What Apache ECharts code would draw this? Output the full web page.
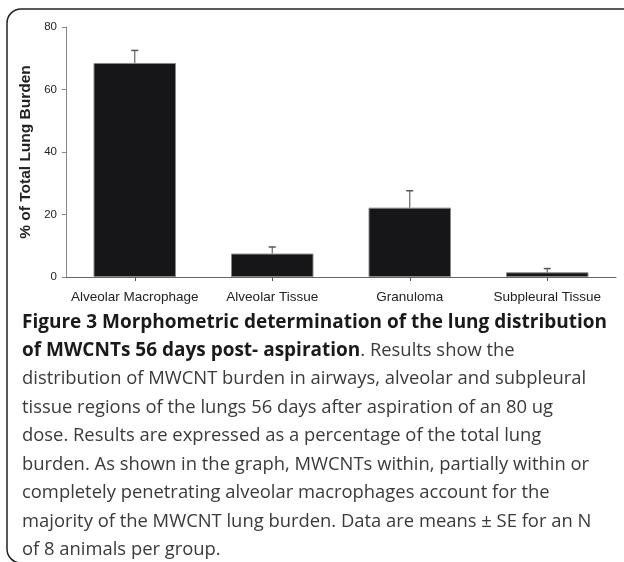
<!DOCTYPE html>
<html>
<head>
<meta charset="utf-8">
<script src="https://cdn.jsdelivr.net/npm/echarts@6/dist/echarts.min.js"></script>
<style>
html,body{margin:0;padding:0;background:#fff;}
#c{width:624px;height:562px;}
</style>
</head>
<body>
<div id="c"></div>
<script>
const categories = ['Alveolar Macrophage', 'Alveolar Tissue', 'Granuloma', 'Subpleural Tissue'];
const means = [68.5, 7.5, 22.2, 1.5];
const se = [4.0, 2.1, 5.4, 1.2];
const yTicks = [0, 20, 40, 60, 80];
const yTitle = '% of Total Lung Burden';
const captionLines = [
  [['b', 'Figure 3 Morphometric determination of the lung distribution']],
  [['b', 'of MWCNTs 56 days post- aspiration'], ['r', '. Results show the']],
  [['r', 'distribution of MWCNT burden in airways, alveolar and subpleural']],
  [['r', 'tissue regions of the lungs 56 days after aspiration of an 80 ug']],
  [['r', 'dose. Results are expressed as a percentage of the total lung']],
  [['r', 'burden. As shown in the graph, MWCNTs within, partially within or']],
  [['r', 'completely penetrating alveolar macrophages account for the']],
  [['r', 'majority of the MWCNT lung burden. Data are means \u00b1 SE for an N']],
  [['r', 'of 8 animals per group.']]
];

const chart = echarts.init(document.getElementById('c'), null, {renderer: 'canvas'});

const capFont = '"Open Sans", "Noto Sans", sans-serif';
const graphics = [
  {
    type: 'rect',
    shape: {x: 7, y: 9, width: 680, height: 554, r: 14},
    style: {fill: 'none', stroke: '#222', lineWidth: 1.5},
    silent: true
  }
];
captionLines.forEach(function (parts, i) {
  graphics.push({
    type: 'text',
    left: 22,
    top: 313 + i * 28.5,
    style: {
      text: parts.map(function (p) { return '{' + p[0] + '|' + p[1] + '}'; }).join(''),
      rich: {
        b: {fontFamily: capFont, fontWeight: 'bold', fontSize: 19, fill: '#1a1a1a'},
        r: {fontFamily: capFont, fontWeight: 'normal', fontSize: 18.4, fill: '#3a3a3a'}
      }
    },
    silent: true
  });
});

chart.setOption({
  animation: false,
  backgroundColor: '#fff',
  grid: {left: 66, right: 8, top: 27, bottom: 285, containLabel: false},
  xAxis: {
    type: 'category',
    data: categories,
    axisLine: {lineStyle: {color: '#666', width: 1}},
    axisTick: {show: true, alignWithLabel: true, length: 4, lineStyle: {color: '#555'}, inside: false},
    axisLabel: {color: '#222', fontFamily: 'Arial, "Liberation Sans", sans-serif', fontSize: 13.5, margin: 13, interval: 0}
  },
  yAxis: {
    type: 'value',
    min: 0,
    max: 80,
    interval: 20,
    name: yTitle,
    nameLocation: 'middle',
    nameGap: 30,
    nameTextStyle: {color: '#222', fontFamily: 'Arial, "Liberation Sans", sans-serif', fontSize: 15.5, fontWeight: 'bold'},
    axisLine: {show: true, lineStyle: {color: '#888', width: 1}},
    axisTick: {show: true, length: 4, lineStyle: {color: '#888'}},
    axisLabel: {color: '#222', fontFamily: 'Arial, "Liberation Sans", sans-serif', fontSize: 11.5, margin: 9,
      formatter: function (v) { return yTicks.indexOf(v) >= 0 ? String(v) : ''; }},
    splitLine: {show: false}
  },
  series: [
    {
      type: 'bar',
      data: means,
      barWidth: '60%',
      itemStyle: {color: '#161618', borderColor: '#888', borderWidth: 1},
      z: 2
    },
    {
      type: 'custom',
      z: 3,
      data: means.map(function (m, i) { return [i, m, m + se[i]]; }),
      renderItem: function (params, api) {
        const x = api.value(0);
        const base = api.coord([x, api.value(1)]);
        const top = api.coord([x, api.value(2)]);
        const hw = 3.5;
        return {
          type: 'group',
          children: [
            {type: 'line', shape: {x1: base[0], y1: base[1], x2: top[0], y2: top[1]}, style: {stroke: '#666', lineWidth: 1.2}},
            {type: 'line', shape: {x1: top[0] - hw, y1: top[1], x2: top[0] + hw, y2: top[1]}, style: {stroke: '#555', lineWidth: 1.5}}
          ]
        };
      }
    }
  ],
  graphic: graphics
});
</script>
</body>
</html>
